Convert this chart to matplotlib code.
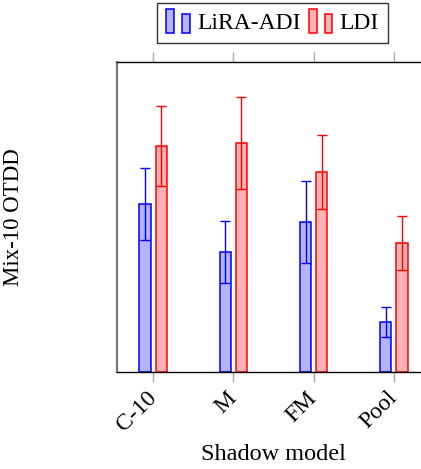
import matplotlib
matplotlib.use("Agg")
import matplotlib.pyplot as plt
from matplotlib.patches import Rectangle
from matplotlib.legend_handler import HandlerBase
import numpy as np

categories = ["C-10", "M", "FM", "Pool"]
series_names = ["LiRA-ADI", "LDI"]
lira_values = [1.68, 1.20, 1.50, 0.50]
lira_errors = [0.36, 0.31, 0.41, 0.15]
ldi_values = [2.26, 2.29, 2.00, 1.29]
ldi_errors = [0.40, 0.46, 0.37, 0.27]

plt.rcParams['font.family'] = ['Liberation Serif', 'DejaVu Serif']

W, H = 421, 469
fig = plt.figure(figsize=(W / 100, H / 100), dpi=100)
ax = fig.add_axes([117 / W, 97 / H, 313 / W, 310 / H])

x = np.arange(len(categories))
width = 0.14
off = 0.1
blue_fill = "#b3b3ff"
red_fill = "#ffb3b3"

ax.bar(x - off, lira_values, width, color=blue_fill, edgecolor="blue", linewidth=1.1, zorder=2)
ax.errorbar(x - off, lira_values, yerr=lira_errors, fmt="none", ecolor="blue",
            elinewidth=1.0, capsize=3.6, capthick=1.0, zorder=3)
ax.bar(x + off, ldi_values, width, color=red_fill, edgecolor="red", linewidth=1.1, zorder=2)
ax.errorbar(x + off, ldi_values, yerr=ldi_errors, fmt="none", ecolor="red",
            elinewidth=1.0, capsize=3.6, capthick=1.0, zorder=3)

ax.set_xlim(-0.45, 3.45)
ax.set_ylim(0, 3.10)
ax.set_yticks([])
ax.set_xticks(x)
ax.set_xticklabels(categories, rotation=45, ha="right", va="center", rotation_mode="anchor", fontsize=17)
ax.tick_params(axis="x", which="both", direction="out", length=7.5, width=1, color="#aaaaaa",
               top=True, bottom=True, labeltop=False, pad=9)
ax.spines["left"].set_color("#777777")
ax.spines["left"].set_linewidth(1.6)
ax.spines["right"].set_visible(False)
for s in ("bottom", "top"):
    ax.spines[s].set_color("black")
    ax.spines[s].set_linewidth(1.0)

ax.set_xlabel("Shadow model", fontsize=17.5, labelpad=6)
ax.set_ylabel("Mix-10 OTDD", fontsize=16.5, labelpad=0)
ax.yaxis.set_label_coords(-(117 - 24) / 313, 0.5)


class TwoBarHandler(HandlerBase):
    def __init__(self, fc, ec):
        super().__init__()
        self.fc = fc
        self.ec = ec

    def create_artists(self, legend, orig_handle, xdescent, ydescent, width, height, fontsize, trans):
        bw = width * 0.33
        r1 = Rectangle((-xdescent + width * 0.0, -ydescent - height * 0.25), bw, height * 1.45,
                       facecolor=self.fc, edgecolor=self.ec, linewidth=1.1, transform=trans)
        r2 = Rectangle((-xdescent + width * 0.67, -ydescent - height * 0.25), bw, height * 1.15,
                       facecolor=self.fc, edgecolor=self.ec, linewidth=1.1, transform=trans)
        return [r1, r2]


h1 = Rectangle((0, 0), 1, 1)
h2 = Rectangle((0, 0), 1, 1)
leg = fig.legend([h1, h2], series_names, loc="upper center", bbox_to_anchor=(272.5 / W, 1 - 3 / H),
                 ncol=2, frameon=True, fancybox=False, fontsize=17, handlelength=1.0,
                 handletextpad=0.3, columnspacing=0.35, borderpad=0.4, borderaxespad=0,
                 handler_map={h1: TwoBarHandler(blue_fill, "blue"), h2: TwoBarHandler(red_fill, "red")})
leg.get_frame().set_edgecolor("black")
leg.get_frame().set_linewidth(1.0)

fig.savefig("out.png", dpi=100)
